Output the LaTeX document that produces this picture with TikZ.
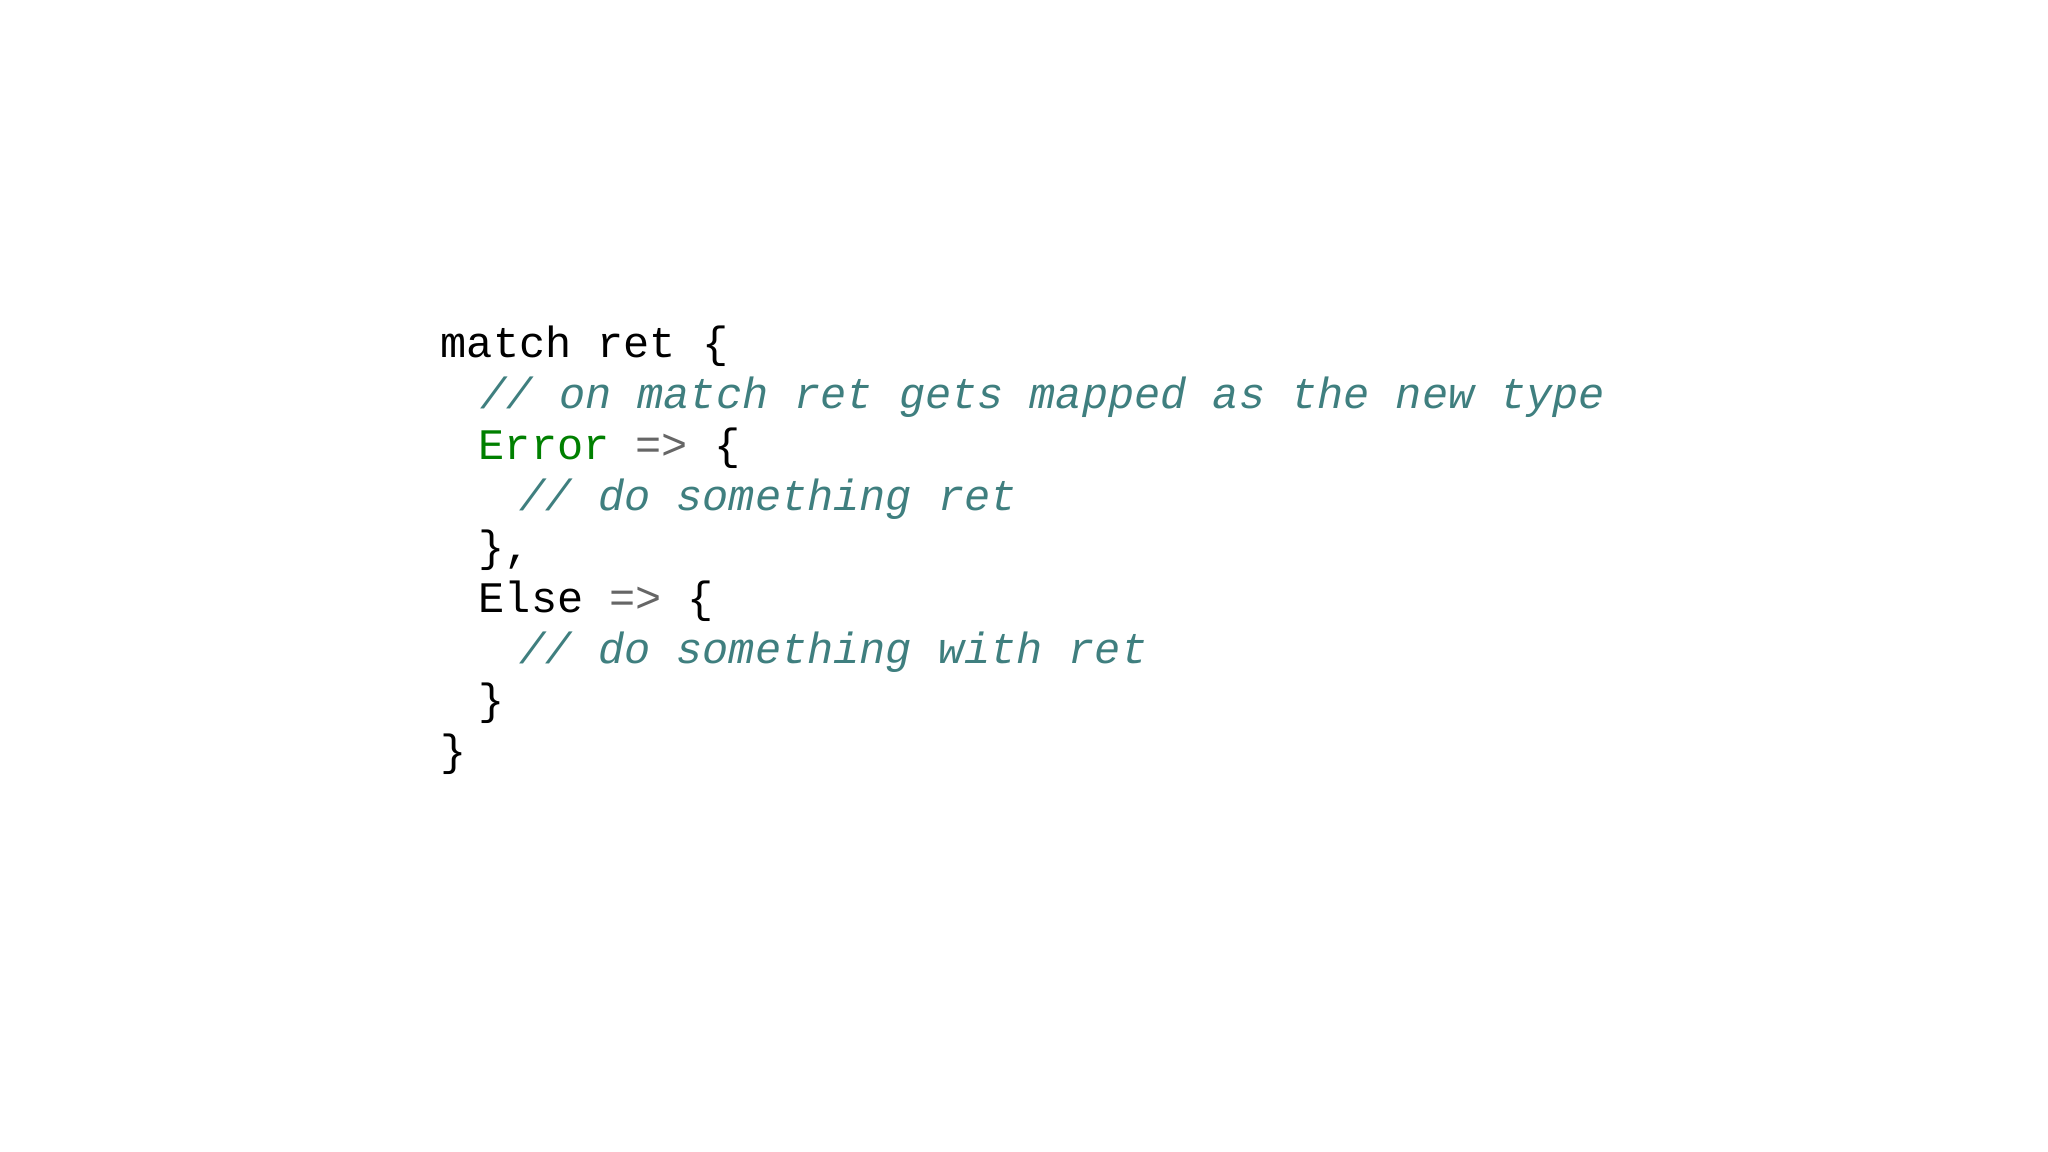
\documentclass[tikz,border=0pt]{standalone}
\usepackage{fontspec}
\setmonofont{Liberation Mono}
\definecolor{cmt}{HTML}{3F7F7F}
\definecolor{kw}{HTML}{008000}
\definecolor{op}{HTML}{666666}
\tikzset{code/.style={anchor=base west,inner sep=0pt,font=\fontsize{12.4pt}{14pt}\selectfont\ttfamily}}
\newcommand{\cm}[1]{\textcolor{cmt}{\itshape #1}}
\begin{document}
\begin{tikzpicture}
\useasboundingbox[fill=white] (0,0) rectangle (20.48,11.52);
\def\ya{7.94}
\node[code] (l1) at (4.40,\ya) {match ret \{};
\node[code] (l2) at (4.80,\ya-0.51) {\cm{// on match ret gets mapped as the new type}};
\node[code] (l3) at (4.78,\ya-1.02) {\textcolor{kw}{Error} \textcolor{op}{=>} \{};
\node[code] (l4) at (5.19,\ya-1.53) {\cm{// do something ret}};
\node[code] (l5) at (4.78,\ya-2.04) {\},};
\node[code] (l6) at (4.78,\ya-2.55) {Else \textcolor{op}{=>} \{};
\node[code] (l7) at (5.19,\ya-3.06) {\cm{// do something with ret}};
\node[code] (l8) at (4.78,\ya-3.57) {\}};
\node[code] (l9) at (4.40,\ya-4.08) {\}};
\end{tikzpicture}
\end{document}
